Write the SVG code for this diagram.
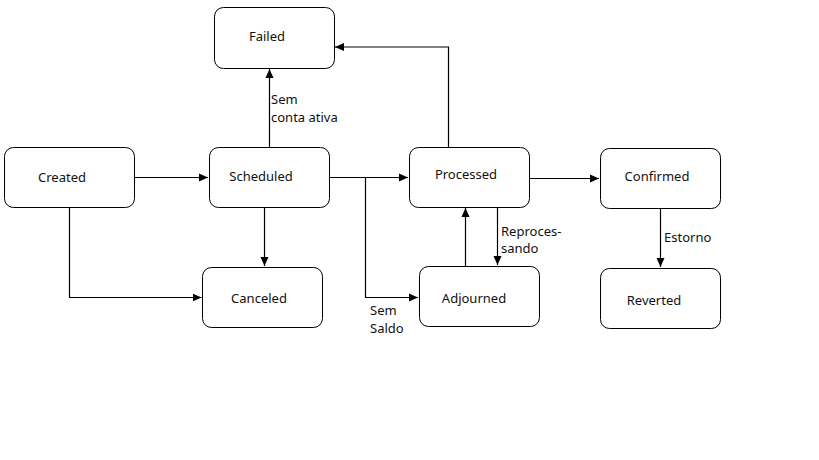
<svg xmlns="http://www.w3.org/2000/svg" width="819" height="460" viewBox="0 0 819 460">
<style>
.box{fill:#fff;stroke:#000;stroke-width:1}
.t{font-family:"Noto Sans","Open Sans",sans-serif;font-size:13px;fill:#111}
.c{fill:none;stroke:#000;stroke-width:1.2}
</style>
<defs>
<marker id="a" markerWidth="10" markerHeight="10" refX="9" refY="5" orient="auto" markerUnits="userSpaceOnUse">
<path d="M0,1 L9,5 L0,9 Z" fill="#000"/>
</marker>
</defs>
<rect width="819" height="460" fill="#fff"/>
<g id="connectors">
<path class="c" d="M269.5,147 V69" marker-end="url(#a)"/>
<path class="c" d="M448.5,147 V47 H335" marker-end="url(#a)"/>
<path class="c" d="M134.5,177.5 H208" marker-end="url(#a)"/>
<path class="c" d="M264.5,207 V266" marker-end="url(#a)"/>
<path class="c" d="M69.5,207 V297.5 H201.5" marker-end="url(#a)"/>
<path class="c" d="M329.5,177.5 H408" marker-end="url(#a)"/>
<path class="c" d="M365.5,177.5 V297.5 H418" marker-end="url(#a)"/>
<path class="c" d="M529.5,178.5 H599" marker-end="url(#a)"/>
<path class="c" d="M465.5,266 V208" marker-end="url(#a)"/>
<path class="c" d="M497.5,207 V265" marker-end="url(#a)"/>
<path class="c" d="M660.5,208 V267" marker-end="url(#a)"/>
<text class="t" x="271" y="104">Sem</text>
<text class="t" x="271" y="122">conta ativa</text>
<text class="t" x="370" y="315">Sem</text>
<text class="t" x="370" y="333">Saldo</text>
<text class="t" x="501" y="236">Reproces-</text>
<text class="t" x="501" y="253">sando</text>
<text class="t" x="664" y="242">Estorno</text>
</g>
<g id="failed"><rect class="box" x="214.5" y="7.5" width="120" height="61" rx="9"/><text class="t" x="267" y="41" text-anchor="middle">Failed</text></g>
<g id="created"><rect class="box" x="4.5" y="147.5" width="130" height="60" rx="9"/><text class="t" x="62" y="182" text-anchor="middle">Created</text></g>
<g id="scheduled"><rect class="box" x="209.5" y="147.5" width="120" height="60" rx="9"/><text class="t" x="261" y="181" text-anchor="middle">Scheduled</text></g>
<g id="canceled"><rect class="box" x="202.5" y="267.5" width="120" height="60" rx="9"/><text class="t" x="259" y="303" text-anchor="middle">Canceled</text></g>
<g id="processed"><rect class="box" x="409.5" y="147.5" width="120" height="60" rx="9"/><text class="t" x="466" y="179" text-anchor="middle">Processed</text></g>
<g id="confirmed"><rect class="box" x="600.5" y="148.5" width="120" height="60" rx="9"/><text class="t" x="657" y="181" text-anchor="middle">Confirmed</text></g>
<g id="adjourned"><rect class="box" x="419.5" y="266.5" width="120" height="60" rx="9"/><text class="t" x="474" y="303" text-anchor="middle">Adjourned</text></g>
<g id="reverted"><rect class="box" x="600.5" y="268.5" width="120" height="60" rx="9"/><text class="t" x="654" y="305" text-anchor="middle">Reverted</text></g>
</svg>
